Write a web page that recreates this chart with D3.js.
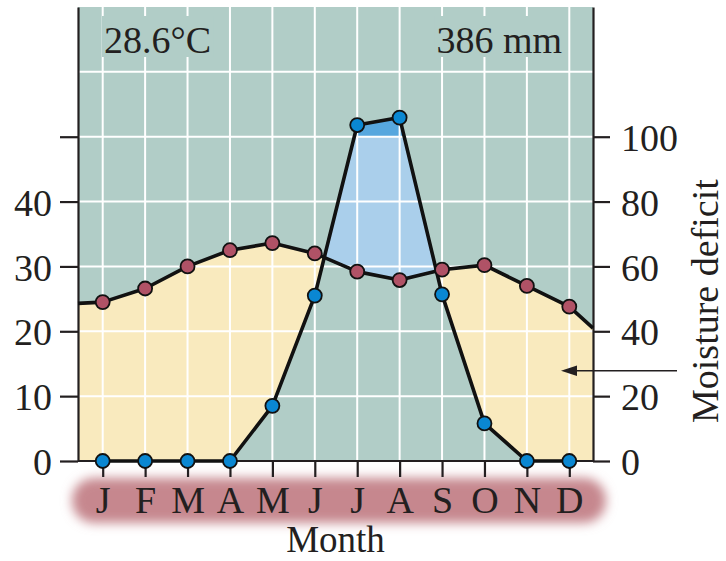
<!DOCTYPE html>
<html>
<head>
<meta charset="utf-8">
<script src="https://cdn.jsdelivr.net/npm/d3@7"></script>
<style>
  html, body { margin: 0; padding: 0; background: #ffffff; }
  svg { display: block; }
  text { font-family: "Liberation Serif", "Times New Roman", serif; fill: #231f20; }
</style>
</head>
<body>
<svg id="chart" width="726" height="561"></svg>
<script>
// ---------------- data ----------------
const months = ["J","F","M","A","M","J","J","A","S","O","N","D"];
// red series (left axis, °C)
const temperature = [24.5, 26.6, 30.0, 32.5, 33.6, 32.0, 29.2, 27.9, 29.5, 30.2, 27.0, 23.8];
// red line values where it meets the left / right plot edges
const temperatureEdges = [24.3, 20.5];
// blue series (right axis, mm)
const precipitation = [0, 0, 0, 0, 17.0, 51.0, 103.6, 105.9, 51.4, 11.6, 0, 0];
const leftTicks = [0, 10, 20, 30, 40, 50];
const leftTickLabels = ["0", "10", "20", "30", "40", ""];
const rightTicks = [0, 20, 40, 60, 80, 100];
const gridValues = [10, 20, 30, 40, 50, 60];
const annotations = { temp: "28.6°C", precip: "386 mm", xTitle: "Month", side: "Moisture deficit" };

// ---------------- layout ----------------
const svg = d3.select("#chart");
const P = { left: 78, right: 593, top: 7, bottom: 461 };
const C = {
  bg: "#b1cdc7", yellow: "#f9eabe", lightBlue: "#aacfeb", darkBlue: "#57a7de",
  red: "#b05266", blue: "#0a87d2", band: "#c6878e", ink: "#231f20"
};
const FS = 38;

const x = d3.scaleLinear().domain([0, 11]).range([102.7, 569.3]);
const yL = d3.scaleLinear().domain([0, 70]).range([P.bottom, P.top]);
const yR = d3.scaleLinear().domain([0, 140]).range([P.bottom, P.top]);

const iL = x.invert(P.left), iR = x.invert(P.right);

const tempPx = [[x(iL), yL(temperatureEdges[0])]]
  .concat(temperature.map((v, i) => [x(i), yL(v)]))
  .concat([[x(iR), yL(temperatureEdges[1])]]);
const precipPx = [[x(iL), yR(0)]]
  .concat(precipitation.map((v, i) => [x(i), yR(v)]))
  .concat([[x(iR), yR(0)]]);

const defs = svg.append("defs");
const under = d3.area().x(d => d[0]).y0(P.bottom).y1(d => d[1]);
const over = d3.area().x(d => d[0]).y0(P.top).y1(d => d[1]);

defs.append("clipPath").attr("id", "underTemp").append("path").attr("d", under(tempPx));
defs.append("clipPath").attr("id", "aboveTemp").append("path").attr("d", over(tempPx));
defs.append("clipPath").attr("id", "above100").append("rect")
  .attr("x", P.left).attr("y", P.top).attr("width", P.right - P.left).attr("height", yR(100) - P.top);
const blur = defs.append("filter").attr("id", "blur").attr("x", "-10%").attr("y", "-60%").attr("width", "120%").attr("height", "220%");
blur.append("feGaussianBlur").attr("stdDeviation", 5.5);

// month band
svg.append("rect")
  .attr("x", 72).attr("y", 478).attr("width", 534).attr("height", 45).attr("rx", 22)
  .attr("fill", C.band).attr("filter", "url(#blur)");

// background
svg.append("rect").attr("x", P.left).attr("y", P.top)
  .attr("width", P.right - P.left).attr("height", P.bottom - P.top).attr("fill", C.bg);

// yellow deficit: under temperature line, above precipitation line
svg.append("path").attr("d", over(precipPx)).attr("fill", C.yellow).attr("clip-path", "url(#underTemp)");
// blue surplus: under precipitation, above temperature
const gBlue = svg.append("g").attr("clip-path", "url(#aboveTemp)");
gBlue.append("path").attr("d", under(precipPx)).attr("fill", C.lightBlue);
gBlue.append("g").attr("clip-path", "url(#above100)")
  .append("path").attr("d", under(precipPx)).attr("fill", C.darkBlue);

// grid
const grid = svg.append("g").attr("stroke", "#ffffff").attr("stroke-width", 2);
grid.selectAll("line.h").data(gridValues).join("line").attr("class", "h")
  .attr("x1", P.left).attr("x2", P.right).attr("y1", d => yL(d)).attr("y2", d => yL(d));
grid.selectAll("line.v").data(d3.range(12)).join("line").attr("class", "v")
  .attr("x1", d => x(d)).attr("x2", d => x(d)).attr("y1", P.top).attr("y2", P.bottom);

// annotation texts with background boxes
function boxedText(str, xpos, anchor) {
  const t = svg.append("text").attr("x", xpos).attr("y", 53).attr("text-anchor", anchor)
    .attr("font-size", FS).text(str);
  const b = t.node().getBBox();
  svg.insert("rect", () => t.node())
    .attr("x", b.x - 2).attr("y", 16).attr("width", b.width + 4).attr("height", 41).attr("fill", C.bg);
}
boxedText(annotations.temp, 104, "start");
boxedText(annotations.precip, 562, "end");

// axes
function styleAxis(g) {
  g.selectAll("path.domain").attr("stroke", C.ink).attr("stroke-width", 2.2);
  g.selectAll(".tick line").attr("stroke", C.ink).attr("stroke-width", 2.2);
  g.selectAll(".tick text").attr("font-size", FS).attr("fill", C.ink)
    .style("font-family", "'Liberation Serif', 'Times New Roman', serif");
}
const gL = svg.append("g").attr("transform", `translate(${P.left},0)`)
  .call(d3.axisLeft(yL).tickValues(leftTicks).tickSize(18).tickPadding(8).tickSizeOuter(0)
    .tickFormat((d, i) => leftTickLabels[i]));
styleAxis(gL);
gL.selectAll(".tick text").attr("dy", "0.36em");

const gR = svg.append("g").attr("transform", `translate(${P.right},0)`)
  .call(d3.axisRight(yR).tickValues(rightTicks).tickSize(17).tickPadding(11).tickSizeOuter(0));
styleAxis(gR);
gR.selectAll(".tick text").attr("dy", "0.36em");

const gB = svg.append("g").attr("transform", `translate(0,${P.bottom})`)
  .call(d3.axisBottom(x).tickValues(d3.range(12)).tickSize(16).tickFormat(i => months[i]));
gB.select("path.domain").remove();
styleAxis(gB);
gB.selectAll(".tick text").attr("y", 52).attr("dy", 0);

// bottom frame line
svg.append("line").attr("x1", P.left).attr("x2", P.right).attr("y1", P.bottom).attr("y2", P.bottom)
  .attr("stroke", C.ink).attr("stroke-width", 2.2);

// lines
const lineGen = d3.line().x(d => d[0]).y(d => d[1]);
svg.append("path").attr("d", lineGen(tempPx)).attr("fill", "none")
  .attr("stroke", "#111").attr("stroke-width", 3.6).attr("stroke-linejoin", "round");
svg.append("path").attr("d", lineGen(precipitation.map((v, i) => [x(i), yR(v)]))).attr("fill", "none")
  .attr("stroke", "#111").attr("stroke-width", 3.6).attr("stroke-linejoin", "round");

// points
svg.append("g").selectAll("circle").data(temperature).join("circle")
  .attr("cx", (d, i) => x(i)).attr("cy", d => yL(d)).attr("r", 7)
  .attr("fill", C.red).attr("stroke", "#111").attr("stroke-width", 1.8);
svg.append("g").selectAll("circle").data(precipitation).join("circle")
  .attr("cx", (d, i) => x(i)).attr("cy", d => yR(d)).attr("r", 7)
  .attr("fill", C.blue).attr("stroke", "#111").attr("stroke-width", 1.8);

// titles
svg.append("text").attr("x", 335.5).attr("y", 552).attr("text-anchor", "middle")
  .attr("font-size", 37).text(annotations.xTitle);
svg.append("text").attr("transform", "translate(718,423) rotate(-90)")
  .attr("text-anchor", "start").attr("font-size", FS).text(annotations.side);

// arrow
svg.append("line").attr("x1", 677).attr("x2", 574).attr("y1", 370.7).attr("y2", 370.7)
  .attr("stroke", C.ink).attr("stroke-width", 1.6);
svg.append("path").attr("d", "M561,370.7 L577,365.5 L577,375.9 Z").attr("fill", C.ink);
</script>
</body>
</html>
